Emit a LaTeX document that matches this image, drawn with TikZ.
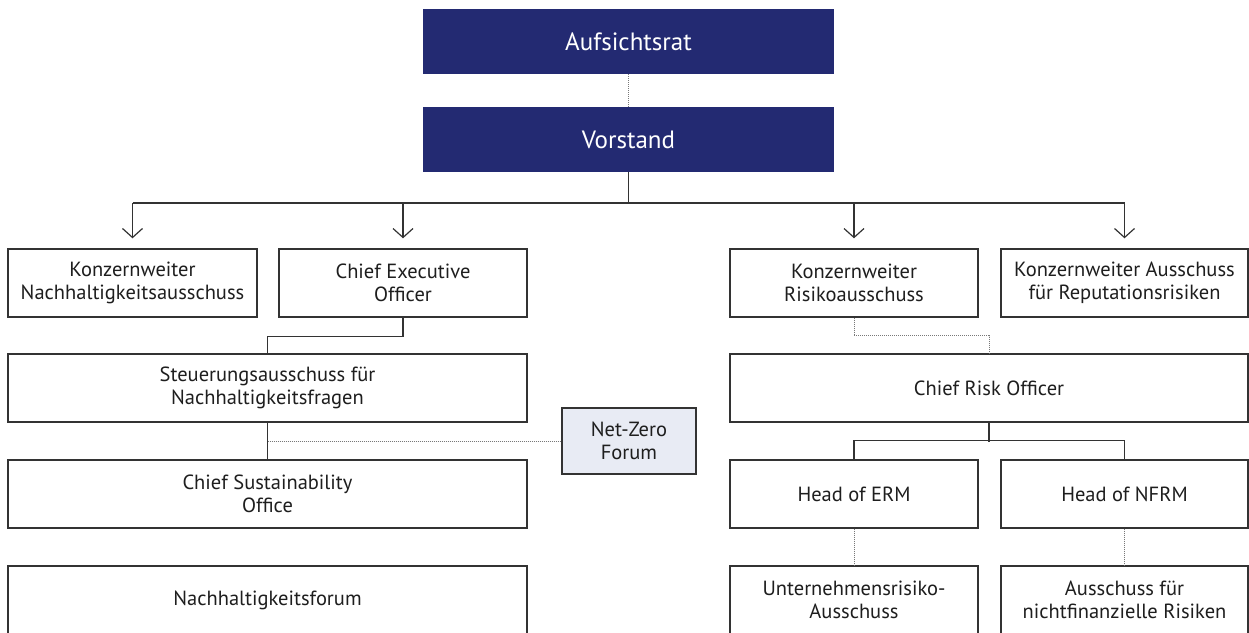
\documentclass[tikz,border=0pt]{standalone}
\usepackage{fontspec}
\setmainfont{PT Sans}
\usetikzlibrary{arrows.meta}
\definecolor{navy}{RGB}{35,42,114}
\definecolor{ink}{RGB}{30,30,30}
\definecolor{frame}{RGB}{51,51,51}
\definecolor{dots}{RGB}{120,120,120}
\definecolor{paleblue}{RGB}{232,235,244}
\tikzset{
  unit/.style={draw=frame, line width=1.4pt, fill=white, text=ink, inner sep=0pt,
    align=center, font=\fontsize{20.5}{23.5}\selectfont},
  headbox/.style={draw=none, fill=navy, text=white, inner sep=0pt,
    minimum width=411pt, minimum height=65pt, font=\fontsize{25}{29}\selectfont},
  forumbox/.style={unit, fill=paleblue},
  solidlink/.style={draw=frame, line width=1.2pt},
  dottedlink/.style={draw=dots, line width=1pt, dash pattern=on 1pt off 1pt},
  downarrow/.style={solidlink, -{Straight Barb[length=9pt,width=20pt,line width=1.2pt]}, shorten >=10pt}
}
\begin{document}
\begin{tikzpicture}[x=1pt,y=-1pt]
  \useasboundingbox (0,0) rectangle (1249,632);
  \clip (0,0) rectangle (1249,632);

  % governing bodies
  \node[headbox] (aufs) at (628.5,41.5) {Aufsichtsrat};
  \node[headbox] (vorst) at (628.5,139.5) {Vorstand};

  % first level
  \node[unit, minimum width=249pt, minimum height=68pt] (kna) at (132.5,283) {Konzernweiter\\Nachhaltigkeitsausschuss};
  \node[unit, minimum width=248pt, minimum height=68pt] (ceo) at (403,283) {Chief Executive\\Officer};
  \node[unit, minimum width=248pt, minimum height=68pt] (kri) at (854,283) {Konzernweiter\\Risikoausschuss};
  \node[unit, minimum width=247pt, minimum height=68pt] (krep) at (1124.5,283) {Konzernweiter Ausschuss\\für Reputationsrisiken};

  % sustainability branch
  \node[unit, minimum width=519pt, minimum height=68pt] (steu) at (267.5,388) {Steuerungsausschuss für\\Nachhaltigkeitsfragen};
  \node[forumbox, minimum width=134pt, minimum height=66pt] (nzf) at (629,441) {Net-Zero\\Forum};
  \node[unit, minimum width=519pt, minimum height=68pt] (cso) at (267.5,494) {Chief Sustainability\\Office};
  \node[unit, minimum width=519pt, minimum height=68pt] (nhf) at (267.5,600) {Nachhaltigkeitsforum};

  % risk branch
  \node[unit, minimum width=518pt, minimum height=68pt] (cro) at (989,388) {Chief Risk Officer};
  \node[unit, minimum width=248pt, minimum height=68pt] (erm) at (854,494) {Head of ERM};
  \node[unit, minimum width=247pt, minimum height=68pt] (nfrm) at (1124.5,494) {Head of NFRM};
  \node[unit, minimum width=248pt, minimum height=68pt] (urisk) at (854,600) {Unternehmensrisiko-\\Ausschuss};
  \node[unit, minimum width=247pt, minimum height=68pt] (nfin) at (1124.5,600) {Ausschuss für\\nichtfinanzielle Risiken};

  % board links
  \draw[dottedlink] (aufs.south) -- (vorst.north);
  \coordinate (bus) at (628.5,203);
  \draw[solidlink] (vorst.south) -- (bus);
  \draw[solidlink] (kna.north |- bus) -- (krep.north |- bus);
  \foreach \target in {kna,ceo,kri,krep}
    \draw[downarrow] (\target.north |- bus) -- (\target.north);

  % sustainability links
  \draw[solidlink] (ceo.south) -- ++(0,19) -| (steu.north);
  \draw[solidlink] (steu.south) -- (cso.north);
  \draw[dottedlink] (steu.south |- nzf.west) -- (nzf.west);

  % risk links
  \draw[dottedlink] (kri.south) -- ++(0,18) -| (cro.north);
  \draw[solidlink] (cro.south) -- ++(0,19);
  \draw[solidlink] (erm.north) -- ++(0,-19) -| (nfrm.north);
  \draw[dottedlink] (erm.south) -- (urisk.north);
  \draw[dottedlink] (nfrm.south) -- (nfin.north);
\end{tikzpicture}
\end{document}
